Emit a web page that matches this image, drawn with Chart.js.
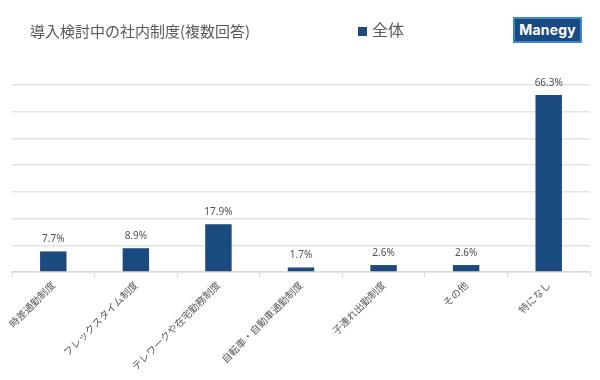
<!DOCTYPE html>
<html>
<head>
<meta charset="utf-8">
<script src="https://cdn.jsdelivr.net/npm/chart.js@4"></script>
<style>
  html, body { margin: 0; padding: 0; background: #fff; }
  #wrap { position: relative; width: 600px; height: 380px; }
  #logo {
    position: absolute; left: 513px; top: 17px; width: 65px; height: 22px;
    background: #1a4a80; border: 2px solid #3d86d0;
    color: #fff; font: bold 14px "Inter", "Noto Sans", sans-serif;
    text-align: center; line-height: 22px; letter-spacing: 0.2px;
  }
</style>
</head>
<body>
<div id="wrap">
  <canvas id="c" width="600" height="380"></canvas>
  <div id="logo">Manegy</div>
</div>
<script>
const chartTitle = "導入検討中の社内制度(複数回答)";
const categories = ["時差通勤制度", "フレックスタイム制度", "テレワークや在宅勤務制度", "自転車・自動車通勤制度", "子連れ出勤制度", "その他", "特になし"];
const seriesName = "全体";
const values = [7.7, 8.9, 17.9, 1.7, 2.6, 2.6, 66.3];
const barColor = "#1b4a7f";
const textGrey = "#595959";
const cjkFont = '"Noto Sans CJK JP", "Noto Sans", sans-serif';

const overlayPlugin = {
  id: "overlay",
  afterDatasetsDraw(chart) {
    const ctx = chart.ctx;
    ctx.save();
    // data labels
    const meta = chart.getDatasetMeta(0);
    ctx.fillStyle = "#505050";
    ctx.font = '10px "Noto Sans", sans-serif';
    ctx.textAlign = "center";
    ctx.textBaseline = "bottom";
    meta.data.forEach((bar, i) => {
      const v = chart.data.datasets[0].data[i];
      ctx.fillText(v.toFixed(1) + "%", bar.x, bar.y - 7);
    });
    // title
    ctx.fillStyle = textGrey;
    ctx.font = '15px ' + cjkFont;
    ctx.textAlign = "left";
    ctx.textBaseline = "middle";
    ctx.fillText(chartTitle, 30, 31);
    // legend
    const ds = chart.data.datasets[0];
    ctx.fillStyle = ds.backgroundColor;
    ctx.fillRect(358, 27, 9, 9);
    ctx.fillStyle = textGrey;
    ctx.font = '16px ' + cjkFont;
    ctx.fillText(ds.label, 372, 30);
    ctx.restore();
  }
};

new Chart(document.getElementById("c"), {
  type: "bar",
  data: {
    labels: categories,
    datasets: [{
      label: seriesName,
      data: values,
      backgroundColor: barColor,
      borderWidth: 0,
      barPercentage: 0.32,
      categoryPercentage: 1.0
    }]
  },
  options: {
    responsive: false,
    animation: false,
    events: [],
    layout: { padding: { left: 12, right: 10, top: 85, bottom: 0 } },
    plugins: {
      legend: { display: false },
      title: { display: false },
      tooltip: { enabled: false }
    },
    scales: {
      y: {
        min: 0, max: 70,
        ticks: { display: false, stepSize: 10 },
        border: { display: false },
        grid: { color: "#e3e3e3", lineWidth: 1.5, drawTicks: false },
        afterFit(scale) { scale.width = 0; }
      },
      x: {
        border: { display: true, color: "#d9d9d9", width: 1.5 },
        grid: { display: true, drawOnChartArea: false, drawTicks: true, tickLength: 5, color: "#d9d9d9", offset: true },
        ticks: {
          minRotation: 45, maxRotation: 45, autoSkip: false,
          color: textGrey,
          font: { size: 10, family: cjkFont },
          padding: 2
        },
        afterFit(scale) { scale.height = 108; }
      }
    }
  },
  plugins: [overlayPlugin]
});
</script>
</body>
</html>
